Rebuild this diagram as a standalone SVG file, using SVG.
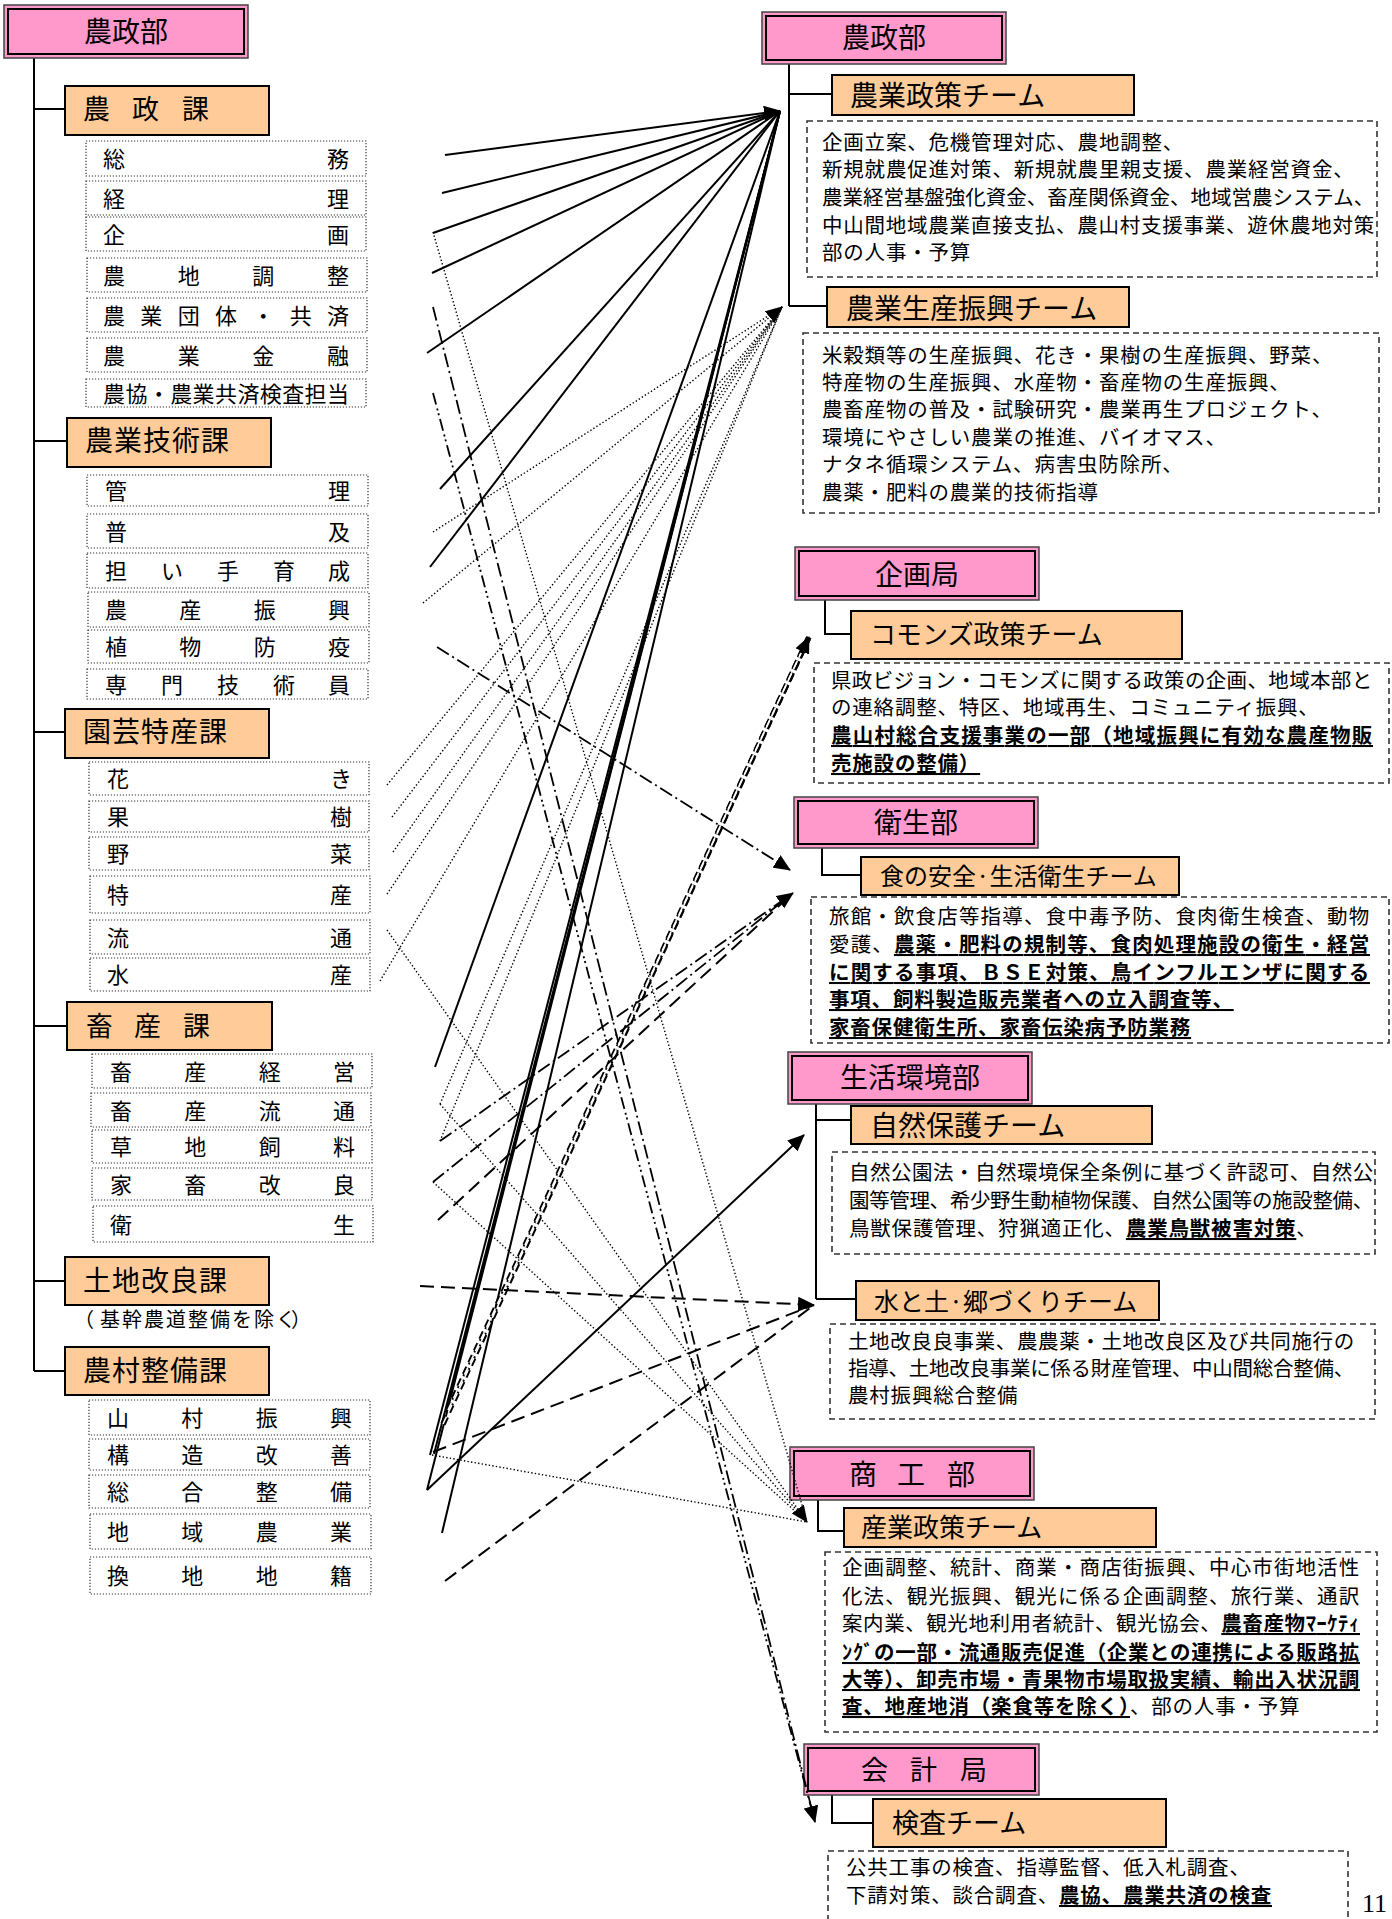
<svg xmlns="http://www.w3.org/2000/svg" width="1392" height="1919" viewBox="0 0 1392 1919">
<defs>
<style>
text{font-family:'Noto Sans CJK JP','Noto Sans CJK SC',sans-serif;fill:#000}
.pk{fill:#FF99CC;stroke:#444;stroke-width:1.5}
.pki{fill:none;stroke:#000;stroke-width:2}
.or{fill:#FFCC99;stroke:#000;stroke-width:2}
.it{fill:none;stroke:#333;stroke-width:1.2;stroke-dasharray:1.2 1.8}
.ds{fill:none;stroke:#333;stroke-width:1.6;stroke-dasharray:6 4}
.tr{fill:none;stroke:#000;stroke-width:2}
.t28{font-size:28px}
.t27{font-size:27px}
.t22{font-size:22px}
.d{font-size:20.5px;letter-spacing:0.8px}
.b{font-weight:bold;text-decoration:underline}
.sol{fill:none;stroke:#000;stroke-width:2}
.dot{fill:none;stroke:#000;stroke-width:1.4;stroke-dasharray:1.4 2.2}
.dd{fill:none;stroke:#000;stroke-width:1.8;stroke-dasharray:14 4 2 4}
.ddd{fill:none;stroke:#000;stroke-width:1.8;stroke-dasharray:12 4 2 3 2 4}
.ld{fill:none;stroke:#000;stroke-width:2;stroke-dasharray:14 7}
.dbl{fill:none;stroke:#000;stroke-width:5.5;stroke-dasharray:8 5}
.dblw{fill:none;stroke:#fff;stroke-width:1.6;stroke-dasharray:8 5}
</style>
<marker id="ah" viewBox="0 0 17 15" markerWidth="17" markerHeight="15" refX="16" refY="7.5" orient="auto" markerUnits="userSpaceOnUse"><path d="M0,0 L17,7.5 L0,15 z" fill="#000"/></marker>
</defs>
<rect width="1392" height="1919" fill="#fff"/>

<!-- LEFT TREE -->
<g id="left-tree" class="tr">
<path d="M34,58 V1371 M34,109 H65 M34,441 H67 M34,732 H65 M34,1026 H67 M34,1281 H65 M34,1371 H65"/>
</g>

<g id="L-noseibu">
<rect class="pk" x="4" y="5" width="244" height="53"/><rect class="pki" x="8" y="9" width="236" height="45"/>
<text class="t28" x="126" y="42" text-anchor="middle">農政部</text>
</g>

<g id="L-noseika">
<rect class="or" x="65" y="86" width="204" height="49"/>
<text class="t27" x="83 132 182" y="119">農政課</text>
</g>
<g id="L-noseika-items" class="t22">
<rect class="it" x="86" y="141" width="280" height="35"/><text x="103 327" y="167">総務</text>
<rect class="it" x="86" y="181" width="280" height="34"/><text x="103 327" y="206.5">経理</text>
<rect class="it" x="86" y="217" width="280" height="34"/><text x="103 327" y="242.5">企画</text>
<rect class="it" x="87" y="258" width="280" height="34"/><text x="103 177.7 252.3 327" y="283.5">農地調整</text>
<rect class="it" x="87" y="298" width="280" height="34"/><text x="103 140.3 177.7 215 252.3 289.7 327" y="323.5">農業団体・共済</text>
<rect class="it" x="87" y="338" width="280" height="34"/><text x="103 177.7 252.3 327" y="363.5">農業金融</text>
<rect class="it" x="86" y="379" width="280" height="28"/><text x="103 125.4 147.8 170.2 192.6 215 237.4 259.8 282.2 304.6 327" y="401.5">農協・農業共済検査担当</text>
</g>

<g id="L-gijutsuka">
<rect class="or" x="67" y="418" width="204" height="49"/>
<text class="t28" x="85" y="451" letter-spacing="1">農業技術課</text>
</g>
<g id="L-gijutsuka-items" class="t22">
<rect class="it" x="87" y="475" width="281" height="31"/><text x="105 328" y="499">管理</text>
<rect class="it" x="87" y="514" width="281" height="34"/><text x="105 328" y="539.5">普及</text>
<rect class="it" x="87" y="553" width="281" height="35"/><text x="105 161 217 273 328" y="579">担い手育成</text>
<rect class="it" x="88" y="592" width="281" height="35"/><text x="105 179.3 253.7 328" y="618">農産振興</text>
<rect class="it" x="88" y="630" width="281" height="33"/><text x="105 179.3 253.7 328" y="655">植物防疫</text>
<rect class="it" x="87" y="669" width="281" height="30"/><text x="105 161 217 273 328" y="692.5">専門技術員</text>
</g>

<g id="L-engeika">
<rect class="or" x="65" y="709" width="204" height="49"/>
<text class="t28" x="83" y="742" letter-spacing="1">園芸特産課</text>
</g>
<g id="L-engeika-items" class="t22">
<rect class="it" x="89" y="762" width="280" height="33"/><text x="107 330" y="787">花き</text>
<rect class="it" x="89" y="801" width="280" height="31"/><text x="107 330" y="825">果樹</text>
<rect class="it" x="89" y="837" width="280" height="33"/><text x="107 330" y="862">野菜</text>
<rect class="it" x="90" y="876" width="280" height="37"/><text x="107 330" y="903">特産</text>
<rect class="it" x="90" y="920" width="280" height="34"/><text x="107 330" y="945.5">流通</text>
<rect class="it" x="90" y="958" width="280" height="33"/><text x="107 330" y="983">水産</text>
</g>

<g id="L-chikusanka">
<rect class="or" x="67" y="1002" width="205" height="48"/>
<text class="t27" x="86 134 183" y="1036">畜産課</text>
</g>
<g id="L-chikusanka-items" class="t22">
<rect class="it" x="92" y="1054" width="280" height="34"/><text x="110 184.3 258.7 333" y="1079.5">畜産経営</text>
<rect class="it" x="91" y="1093" width="280" height="34"/><text x="110 184.3 258.7 333" y="1118.5">畜産流通</text>
<rect class="it" x="92" y="1130" width="280" height="33"/><text x="110 184.3 258.7 333" y="1155">草地飼料</text>
<rect class="it" x="92" y="1168" width="280" height="32"/><text x="110 184.3 258.7 333" y="1192.5">家畜改良</text>
<rect class="it" x="93" y="1206" width="280" height="36"/><text x="110 333" y="1232.5">衛生</text>
</g>

<g id="L-tochikairyoka">
<rect class="or" x="65" y="1257" width="204" height="48"/>
<text class="t28" x="83" y="1291" letter-spacing="1">土地改良課</text>
<text x="74 100 122 144 166 188 210 232 254 276 291" y="1327" font-size="20">（基幹農道整備を除く）</text>
</g>

<g id="L-nosonseibika">
<rect class="or" x="65" y="1347" width="204" height="48"/>
<text class="t28" x="83" y="1381" letter-spacing="1">農村整備課</text>
</g>
<g id="L-nosonseibika-items" class="t22">
<rect class="it" x="89" y="1400" width="281" height="35"/><text x="107 181.3 255.7 330" y="1426">山村振興</text>
<rect class="it" x="89" y="1439" width="281" height="31"/><text x="107 181.3 255.7 330" y="1463">構造改善</text>
<rect class="it" x="89" y="1475" width="281" height="33"/><text x="107 181.3 255.7 330" y="1500">総合整備</text>
<rect class="it" x="90" y="1514" width="281" height="35"/><text x="107 181.3 255.7 330" y="1540">地域農業</text>
<rect class="it" x="90" y="1557" width="281" height="37"/><text x="107 181.3 255.7 330" y="1584">換地地籍</text>
</g>

<!-- RIGHT TREE LINES -->
<g id="right-tree" class="tr">
<path d="M789,64 V306 M789,94 H832 M789,306 H827"/>
<path d="M825,600 V634 H851"/>
<path d="M822,848 V875 H861"/>
<path d="M816,1104 V1299 M816,1120 H851 M816,1299 H856"/>
<path d="M818,1500 V1531 H844"/>
<path d="M832,1795 V1823 H873"/>
</g>

<g id="R-noseibu">
<rect class="pk" x="762" y="12" width="244" height="52"/><rect class="pki" x="766" y="16" width="236" height="44"/>
<text class="t28" x="884" y="48" text-anchor="middle">農政部</text>
</g>
<g id="R-nogyoseisaku">
<rect class="or" x="832" y="75" width="302" height="40"/>
<text class="t28" x="850" y="106">農業政策チーム</text>
<rect class="ds" x="807" y="121" width="570" height="156"/>
<text class="d" x="822" y="150">企画立案、危機管理対応、農地調整、</text>
<text class="d" x="822" y="177">新規就農促進対策、新規就農里親支援、農業経営資金、</text>
<text class="d" x="822" y="205" textLength="553" lengthAdjust="spacing">農業経営基盤強化資金、畜産関係資金、地域営農システム、</text>
<text class="d" x="822" y="233" textLength="553" lengthAdjust="spacing">中山間地域農業直接支払、農山村支援事業、遊休農地対策</text>
<text class="d" x="822" y="260">部の人事・予算</text>
</g>
<g id="R-nogyoseisan">
<rect class="or" x="827" y="287" width="302" height="40"/>
<text class="t28" x="846" y="319">農業生産振興チーム</text>
<rect class="ds" x="803" y="333" width="576" height="180"/>
<text class="d" x="822" y="363">米穀類等の生産振興、花き・果樹の生産振興、野菜、</text>
<text class="d" x="822" y="390">特産物の生産振興、水産物・畜産物の生産振興、</text>
<text class="d" x="822" y="417">農畜産物の普及・試験研究・農業再生プロジェクト、</text>
<text class="d" x="822" y="445">環境にやさしい農業の推進、バイオマス、</text>
<text class="d" x="822" y="472">ナタネ循環システム、病害虫防除所、</text>
<text class="d" x="822" y="500">農薬・肥料の農業的技術指導</text>
</g>

<g id="R-kikakukyoku">
<rect class="pk" x="795" y="547" width="244" height="53"/><rect class="pki" x="799" y="551" width="236" height="45"/>
<text class="t28" x="917" y="585" text-anchor="middle">企画局</text>
</g>
<g id="R-commons">
<rect class="or" x="851" y="611" width="331" height="48"/>
<text x="870" y="644" font-size="26">コモンズ政策チーム</text>
<rect class="ds" x="814" y="663" width="575" height="120"/>
<text class="d" x="831" y="688" textLength="542" lengthAdjust="spacing">県政ビジョン・コモンズに関する政策の企画、地域本部と</text>
<text class="d" x="831" y="715">の連絡調整、特区、地域再生、コミュニティ振興、</text>
<text class="d b" x="831" y="743" textLength="542" lengthAdjust="spacing">農山村総合支援事業の一部（地域振興に有効な農産物販</text>
<text class="d b" x="831" y="771">売施設の整備）</text>
</g>

<g id="R-eiseibu">
<rect class="pk" x="794" y="797" width="244" height="51"/><rect class="pki" x="798" y="801" width="236" height="43"/>
<text class="t28" x="916" y="833" text-anchor="middle">衛生部</text>
</g>
<g id="R-shokuanzen">
<rect class="or" x="861" y="857" width="318" height="38"/>
<text x="880" y="885" font-size="24">食の安全·生活衛生チーム</text>
<rect class="ds" x="811" y="897" width="578" height="146"/>
<text class="d" x="829" y="924" textLength="541" lengthAdjust="spacing">旅館・飲食店等指導、食中毒予防、食肉衛生検査、動物</text>
<text class="d" x="829" y="952" textLength="541" lengthAdjust="spacing">愛護、<tspan class="b">農薬・肥料の規制等、食肉処理施設の衛生・経営</tspan></text>
<text class="d b" x="829" y="980" textLength="541" lengthAdjust="spacing">に関する事項、ＢＳＥ対策、鳥インフルエンザに関する</text>
<text class="d b" x="829" y="1007">事項、飼料製造販売業者への立入調査等、</text>
<text class="d b" x="829" y="1035">家畜保健衛生所、家畜伝染病予防業務</text>
</g>

<g id="R-seikatsukankyobu">
<rect class="pk" x="788" y="1052" width="244" height="52"/><rect class="pki" x="792" y="1056" width="236" height="44"/>
<text class="t28" x="910" y="1088" text-anchor="middle">生活環境部</text>
</g>
<g id="R-shizenhogo">
<rect class="or" x="851" y="1106" width="301" height="38"/>
<text class="t28" x="870" y="1136">自然保護チーム</text>
<rect class="ds" x="832" y="1152" width="543" height="102"/>
<text class="d" x="849" y="1180" textLength="525" lengthAdjust="spacing">自然公園法・自然環境保全条例に基づく許認可、自然公</text>
<text class="d" x="849" y="1208" textLength="525" lengthAdjust="spacing">園等管理、希少野生動植物保護、自然公園等の施設整備、</text>
<text class="d" x="849" y="1236">鳥獣保護管理、狩猟適正化、<tspan class="b">農業鳥獣被害対策</tspan>、</text>
</g>
<g id="R-mizutotsuchi">
<rect class="or" x="856" y="1281" width="303" height="39"/>
<text x="874" y="1311" font-size="25">水と土·郷づくりチーム</text>
<rect class="ds" x="830" y="1324" width="545" height="95"/>
<text class="d" x="848" y="1349" textLength="507" lengthAdjust="spacing">土地改良良事業、農農薬・土地改良区及び共同施行の</text>
<text class="d" x="848" y="1376" textLength="507" lengthAdjust="spacing">指導、土地改良事業に係る財産管理、中山間総合整備、</text>
<text class="d" x="848" y="1403">農村振興総合整備</text>
</g>

<g id="R-shokobu">
<rect class="pk" x="790" y="1447" width="244" height="53"/><rect class="pki" x="794" y="1451" width="236" height="45"/>
<text class="t28" x="849 897 947" y="1485">商工部</text>
</g>
<g id="R-sangyoseisaku">
<rect class="or" x="844" y="1508" width="312" height="39"/>
<text x="861" y="1537" font-size="26">産業政策チーム</text>
<rect class="ds" x="825" y="1552" width="552" height="180"/>
<text class="d" x="842" y="1575" textLength="518" lengthAdjust="spacing">企画調整、統計、商業・商店街振興、中心市街地活性</text>
<text class="d" x="842" y="1604" textLength="518" lengthAdjust="spacing">化法、観光振興、観光に係る企画調整、旅行業、通訳</text>
<text class="d" x="842" y="1631" textLength="518" lengthAdjust="spacing">案内業、観光地利用者統計、観光協会、<tspan class="b">農畜産物ﾏｰｹﾃｨ</tspan></text>
<text class="d b" x="842" y="1660" textLength="518" lengthAdjust="spacing">ﾝｸﾞの一部・流通販売促進（企業との連携による販路拡</text>
<text class="d b" x="842" y="1687" textLength="518" lengthAdjust="spacing">大等）、卸売市場・青果物市場取扱実績、輸出入状況調</text>
<text class="d" x="842" y="1714"><tspan class="b">査、地産地消（楽食等を除く）</tspan>、部の人事・予算</text>
</g>

<g id="R-kaikeikyoku">
<rect class="pk" x="804" y="1744" width="235" height="51"/><rect class="pki" x="808" y="1748" width="227" height="43"/>
<text class="t27" x="861 910 960" y="1780">会計局</text>
</g>
<g id="R-kensa">
<rect class="or" x="873" y="1799" width="293" height="48"/>
<text class="t27" x="892" y="1833">検査チーム</text>
<rect class="ds" x="828" y="1851" width="520" height="90"/>
<text class="d" x="846" y="1875">公共工事の検査、指導監督、低入札調査、</text>
<text class="d" x="846" y="1903">下請対策、談合調査、<tspan class="b">農協、農業共済の検査</tspan></text>
</g>

<g id="page-number">
<text x="1362" y="1912" font-size="26" style="font-family:'Liberation Serif',serif">11</text>
</g>

<!-- CONNECTORS -->
<g id="connectors">
<!-- solid to 農業政策チーム -->
<path class="sol" d="M445,155 L780,111" marker-end="url(#ah)"/>
<path class="sol" d="M442,193 L780,111"/>
<path class="sol" d="M433,233 L780,111"/>
<path class="sol" d="M432,273 L780,111"/>
<path class="sol" d="M427,353 L780,111"/>
<path class="sol" d="M440,489 L780,111"/>
<path class="sol" d="M430,567 L780,111"/>
<path class="sol" d="M435,1067 L780,111"/>
<path class="sol" d="M446,1412 L780,111"/>
<path class="sol" d="M430,1455 L780,111"/>
<path class="sol" d="M434,1454 L780,111"/>
<path class="sol" d="M427,1490 L780,111"/>
<path class="sol" d="M442,1533 L780,111"/>
<!-- dotted to 農業生産振興チーム -->
<path class="dot" d="M433,532 L782,307"/>
<path class="dot" d="M423,603 L782,307" marker-end="url(#ah)"/>
<path class="dot" d="M387,785 L782,307"/>
<path class="dot" d="M392,817 L782,307"/>
<path class="dot" d="M393,852 L782,307"/>
<path class="dot" d="M387,894 L782,307"/>
<path class="dot" d="M380,981 L782,307"/>
<path class="dot" d="M440,1104 L782,307"/>
<path class="dot" d="M440,1141 L782,307"/>
<!-- dotted to 産業政策チーム -->
<path class="dot" d="M433,232 L807,1522"/>
<path class="dot" d="M387,930 L807,1522" marker-end="url(#ah)"/>
<path class="dot" d="M440,1104 L807,1522"/>
<path class="dot" d="M433,1182 L807,1522"/>
<path class="dot" d="M432,1455 L807,1522"/>
<!-- double dashed to コモンズ -->
<path class="dbl" d="M443,1424 L809,637" marker-end="url(#ah)"/>
<path class="dbl" d="M448,1410 L809,637"/>
<path class="dblw" d="M443,1424 L801,653"/>
<path class="dblw" d="M448,1410 L801,653"/>
<!-- dash-dot to 衛生部 -->
<path class="dd" d="M437,647 L790,870" marker-end="url(#ah)"/>
<path class="dd" d="M440,1141 L793,893" marker-end="url(#ah)"/>
<path class="dd" d="M433,1182 L793,893"/>
<path class="ld" d="M438,1220 L793,893"/>
<!-- solid to 自然保護 -->
<path class="sol" d="M427,1490 L804,1135" marker-end="url(#ah)"/>
<!-- long dash to 水と土 -->
<path class="ld" d="M420,1286 L814,1305" marker-end="url(#ah)"/>
<path class="ld" d="M433,1452 L814,1305"/>
<path class="ld" d="M445,1581 L814,1305"/>
<!-- dash-dot to 検査 -->
<path class="dd" d="M433,307 L815,1822"/>
<path class="ddd" d="M433,393 L815,1822" marker-end="url(#ah)"/>
</g>
</svg>
